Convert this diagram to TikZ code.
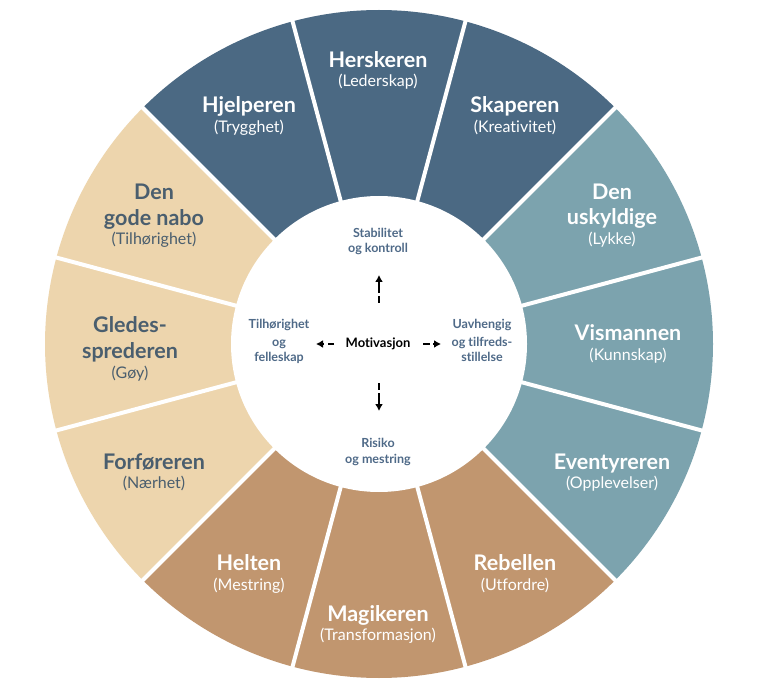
\documentclass[tikz,border=0pt]{standalone}
\usepackage{fontspec}
\setmainfont{Lato}[Ligatures=NoCommon]
\usetikzlibrary{arrows.meta}
\definecolor{cBlue}{HTML}{4B6983}
\definecolor{cTeal}{HTML}{7CA3AE}
\definecolor{cBrown}{HTML}{C1966F}
\definecolor{cBeige}{HTML}{EDD5AD}
\definecolor{cSlate}{HTML}{4A5E6E}
\definecolor{cInner}{HTML}{4F6A88}
\begin{document}
\begin{tikzpicture}[x=1pt,y=1pt,
  ttl/.style={font=\fontsize{21.5}{24}\selectfont\bfseries, anchor=base, inner sep=0pt},
  sub/.style={font=\fontsize{16}{18}\selectfont, anchor=base, inner sep=0pt},
  inr/.style={font=\fontsize{12.5}{15}\selectfont\bfseries, anchor=base, inner sep=0pt, text=cInner},
  arr/.style={line width=1.8pt, dash pattern=on 6.5pt off 3.5pt on 40pt, -{Latex[length=7pt,width=8pt]}}]
\useasboundingbox (0,0) rectangle (757,-692);
\fill[white] (0,0) rectangle (757,-692);
\coordinate (C) at (379,-344);
% segments
\foreach \a/\c in {90/cBlue,60/cBlue,120/cBlue,30/cTeal,0/cTeal,-30/cTeal,-60/cBrown,-90/cBrown,-120/cBrown,150/cBeige,180/cBeige,210/cBeige}
  \fill[\c] (C) -- ++({\a-15}:334pt) arc[start angle={\a-15}, end angle={\a+15}, radius=334pt] -- cycle;
% dividers
\foreach \a in {15,45,...,345}
  \draw[white, line width=4pt] (C) -- ++(\a:340pt);
% inner circle
\fill[white] (C) circle[radius=148pt];

% dark blue
\node[ttl, text=white] (hersk) at (378,-68) {Herskeren};
\node[sub, text=white] (herskS) at (378,-87) {(Lederskap)};
\node[ttl, text=white] (skap) at (515,-113) {Skaperen};
\node[sub, text=white] (skapS) at (515,-133) {(Kreativitet)};
\node[ttl, text=white] (hjelp) at (249,-113) {Hjelperen};
\node[sub, text=white] (hjelpS) at (249,-133) {(Trygghet)};
% teal
\node[ttl, text=white] (usk1) at (612,-200) {Den};
\node[ttl, text=white] (usk2) at (612,-225) {uskyldige};
\node[sub, text=white] (uskS) at (612,-245) {(Lykke)};
\node[ttl, text=white] (vism) at (628,-341) {Vismannen};
\node[sub, text=white] (vismS) at (628,-360) {(Kunnskap)};
\node[ttl, text=white] (event) at (612,-469) {Eventyreren};
\node[sub, text=white] (eventS) at (612,-488) {(Opplevelser)};
% brown
\node[ttl, text=white] (rebel) at (515,-570) {Rebellen};
\node[sub, text=white] (rebelS) at (515,-590) {(Utfordre)};
\node[ttl, text=white] (magi) at (378,-621) {Magikeren};
\node[sub, text=white] (magiS) at (378,-640) {(Transformasjon)};
\node[ttl, text=white] (helt) at (249,-570) {Helten};
\node[sub, text=white] (heltS) at (249,-590) {(Mestring)};
% beige
\node[ttl, text=cSlate] (forf) at (154,-469) {Forføreren};
\node[sub, text=cSlate] (forfS) at (154,-488) {(Nærhet)};
\node[ttl, text=cSlate] (gled1) at (130,-333) {Gledes-};
\node[ttl, text=cSlate] (gled2) at (130,-358) {sprederen};
\node[sub, text=cSlate] (gledS) at (130,-378) {(Gøy)};
\node[ttl, text=cSlate] (nabo1) at (154,-200) {Den};
\node[ttl, text=cSlate] (nabo2) at (154,-226) {gode nabo};
\node[sub, text=cSlate] (naboS) at (154,-245) {(Tilhørighet)};

% inner texts
\node[inr] (stab1) at (378,-238) {Stabilitet};
\node[inr] (stab2) at (378,-253) {og kontroll};
\node[inr] (til1) at (279,-329) {Tilhørighet};
\node[inr] (til2) at (279,-346) {og};
\node[inr] (til3) at (279,-361) {felleskap};
\node[inr] (uav1) at (482,-329) {Uavhengig};
\node[inr] (uav2) at (482,-346) {og tilfreds-};
\node[inr] (uav3) at (482,-361) {stillelse};
\node[inr] (ris1) at (378,-447) {Risiko};
\node[inr] (ris2) at (378,-463) {og mestring};
\node[inr, text=black, font=\fontsize{13}{15}\selectfont\bfseries] (motiv) at (378,-348) {Motivasjon};

% arrows
\coordinate (upS) at (379,-303);
\coordinate (upE) at (379,-275);
\coordinate (dnS) at (379,-383);
\coordinate (dnE) at (379,-411);
\coordinate (lfS) at (334,-344);
\coordinate (lfE) at (316,-344);
\coordinate (rtS) at (423,-344);
\coordinate (rtE) at (441,-344);
\draw[arr] (upS) -- (upE);
\draw[arr] (dnS) -- (dnE);
\draw[arr] (lfS) -- (lfE);
\draw[arr] (rtS) -- (rtE);
\end{tikzpicture}
\end{document}
